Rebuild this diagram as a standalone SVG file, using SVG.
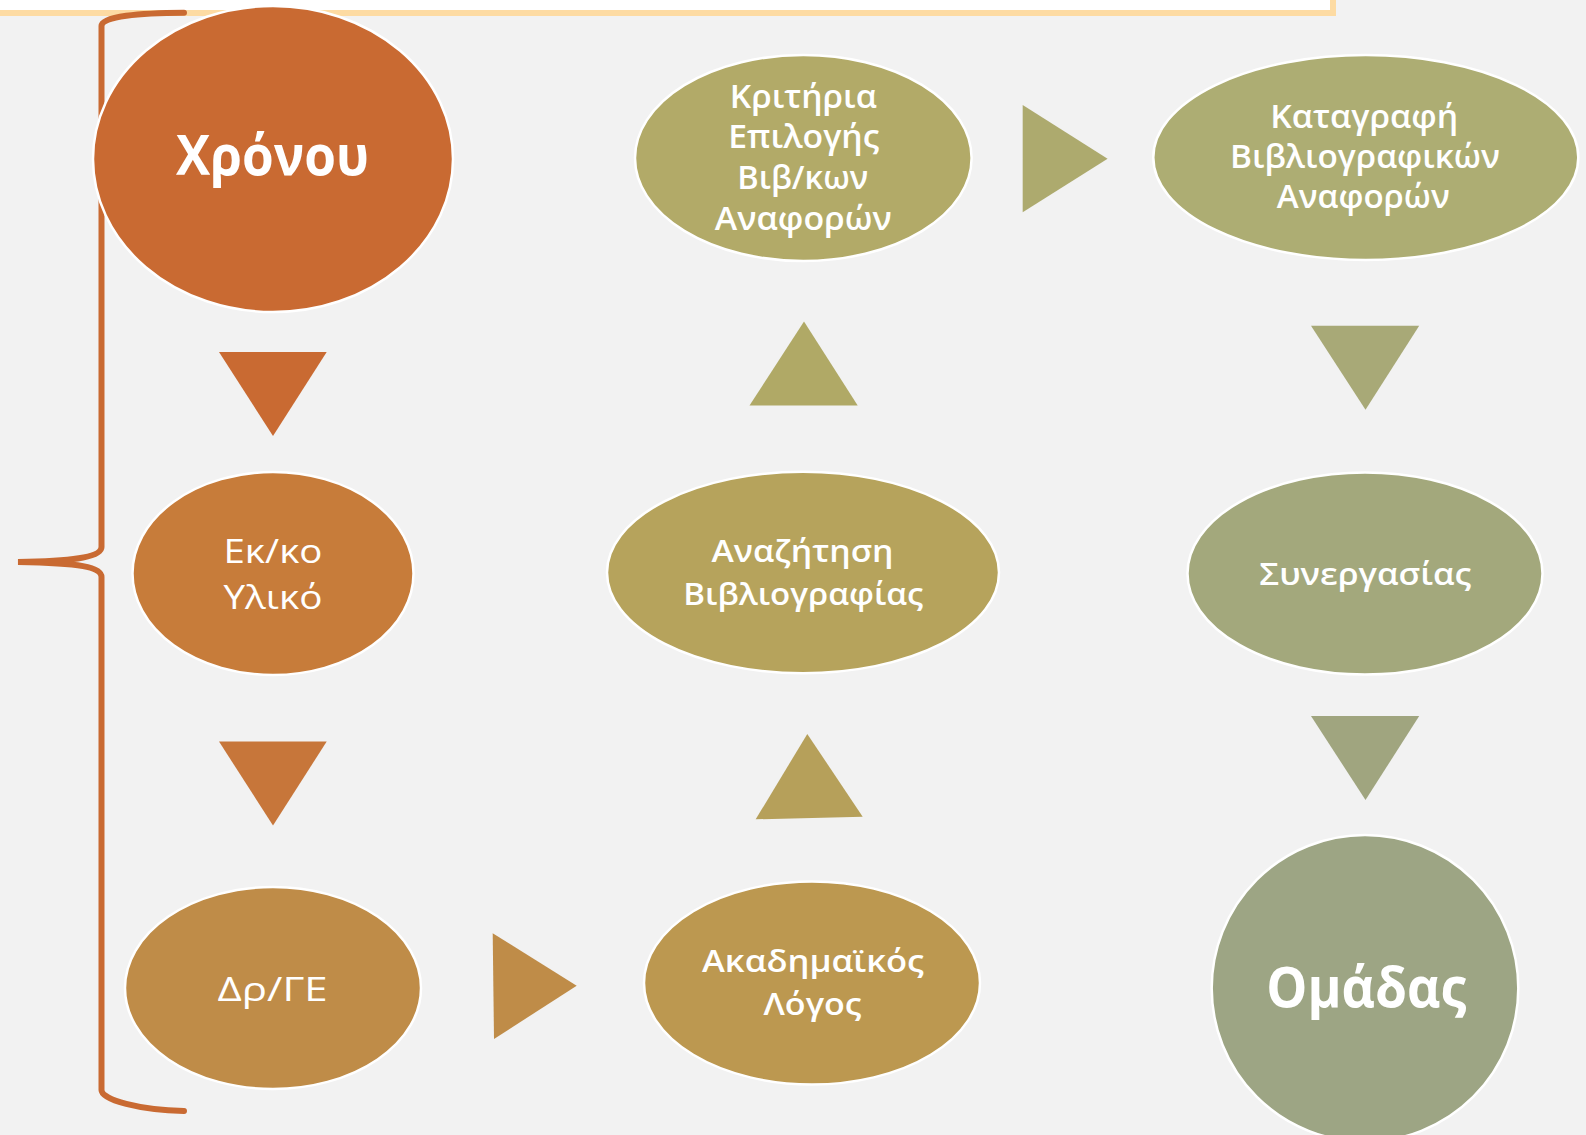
<svg xmlns="http://www.w3.org/2000/svg" width="1586" height="1135" viewBox="0 0 1586 1135">
<style>
.n{stroke:#FFFFFF;stroke-width:2.5}
.t{fill:#FFFFFF;font-family:"Open Sans","Noto Sans","DejaVu Sans",sans-serif;text-anchor:middle}
.big{font-size:56px;font-weight:700}
.mid{font-size:33px;font-weight:600}
.sm{font-size:30px;font-weight:600}
.reg{font-size:32px;font-weight:400}
</style>
<rect x="0" y="0" width="1586" height="1135" fill="#F2F2F2"/>
<rect x="-10" y="-10" width="1343" height="23" fill="#FFFFFF" stroke="#FDDBA3" stroke-width="6"/>
<g id="connectors">
<path id="brace" d="M184,12.7 C140,13 101.5,16 101.5,26 L101.5,547 C101.5,556 80,561 18,562 C80,563 101.5,567 101.5,577 L101.5,1090 C101.5,1100 140,1110 184,1111" fill="none" stroke="#C96A32" stroke-width="6" stroke-linecap="round"/>
<polygon points="219,352 326.7,352 273,436" fill="#C96A32"/>
<polygon points="219,741.5 326.7,741.5 273,825.5" fill="#C7763A"/>
<polygon points="492.7,933.3 494,1039 576.7,985.7" fill="#BF8C48"/>
<polygon points="807.3,734 755.7,819.3 862.7,816.7" fill="#B6A05A"/>
<polygon points="804,321.6 749.5,405.6 857.7,405.6" fill="#B0A966"/>
<polygon points="1022.7,105 1022.7,212.3 1107.6,158.8" fill="#ADAA6E"/>
<polygon points="1311,325.7 1419.2,325.7 1365.5,409.7" fill="#A8A977"/>
<polygon points="1311,716 1419.2,716 1365.5,800" fill="#A0A57F"/>
</g>
<g id="node-xronou">
<ellipse class="n" cx="273" cy="159" rx="180" ry="153" fill="#C96A32"/>
<text class="t big" x="272.5" y="175" textLength="193" lengthAdjust="spacingAndGlyphs">Χρόνου</text>
</g>
<g id="node-ekko">
<ellipse class="n" cx="273" cy="573.5" rx="140.5" ry="101.5" fill="#C77C3A"/>
<text class="t reg" x="273" y="563" textLength="99" lengthAdjust="spacingAndGlyphs">Εκ/κο</text>
<text class="t reg" x="273" y="609" textLength="99" lengthAdjust="spacingAndGlyphs">Υλικό</text>
</g>
<g id="node-drge">
<ellipse class="n" cx="273" cy="988" rx="148" ry="101" fill="#BF8C48"/>
<text class="t reg" x="272.5" y="1001" textLength="110" lengthAdjust="spacingAndGlyphs">Δρ/ΓΕ</text>
</g>
<g id="node-akadimaikos">
<ellipse class="n" cx="812" cy="983" rx="168" ry="101.5" fill="#BC9850"/>
<text class="t sm" x="813" y="971.7" textLength="222" lengthAdjust="spacingAndGlyphs">Ακαδημαϊκός</text>
<text class="t sm" x="812.5" y="1015" textLength="98" lengthAdjust="spacingAndGlyphs">Λόγος</text>
</g>
<g id="node-anazitisi">
<ellipse class="n" cx="803" cy="572.5" rx="196" ry="100.7" fill="#B6A35C"/>
<text class="t sm" x="802.5" y="561.7" textLength="182" lengthAdjust="spacingAndGlyphs">Αναζήτηση</text>
<text class="t sm" x="803.3" y="605" textLength="240" lengthAdjust="spacingAndGlyphs">Βιβλιογραφίας</text>
</g>
<g id="node-kritiria">
<ellipse class="n" cx="803.3" cy="158" rx="168.3" ry="103" fill="#B2AA68"/>
<text class="t mid" x="803.3" y="108.3" textLength="147" lengthAdjust="spacingAndGlyphs">Κριτήρια</text>
<text class="t mid" x="803.8" y="148.3" textLength="151" lengthAdjust="spacingAndGlyphs">Επιλογής</text>
<text class="t mid" x="802.8" y="188.8" textLength="131" lengthAdjust="spacingAndGlyphs">Βιβ/κων</text>
<text class="t mid" x="803.3" y="229.5" textLength="177" lengthAdjust="spacingAndGlyphs">Αναφορών</text>
</g>
<g id="node-katagrafi">
<ellipse class="n" cx="1365.8" cy="157.5" rx="212.5" ry="102.5" fill="#ADAD73"/>
<text class="t mid" x="1364.2" y="128.3" textLength="188" lengthAdjust="spacingAndGlyphs">Καταγραφή</text>
<text class="t mid" x="1365" y="168.3" textLength="270" lengthAdjust="spacingAndGlyphs">Βιβλιογραφικών</text>
<text class="t mid" x="1363.3" y="208.3" textLength="173" lengthAdjust="spacingAndGlyphs">Αναφορών</text>
</g>
<g id="node-synergasias">
<ellipse class="n" cx="1365" cy="573.5" rx="177.5" ry="101" fill="#A3A87C"/>
<text class="t sm" x="1365.3" y="584.6" textLength="212" lengthAdjust="spacingAndGlyphs">Συνεργασίας</text>
</g>
<g id="node-omadas">
<circle class="n" cx="1365" cy="988.3" r="153.3" fill="#9DA584"/>
<text class="t big" x="1366.3" y="1006.7" textLength="200" lengthAdjust="spacingAndGlyphs">Ομάδας</text>
</g>
</svg>
